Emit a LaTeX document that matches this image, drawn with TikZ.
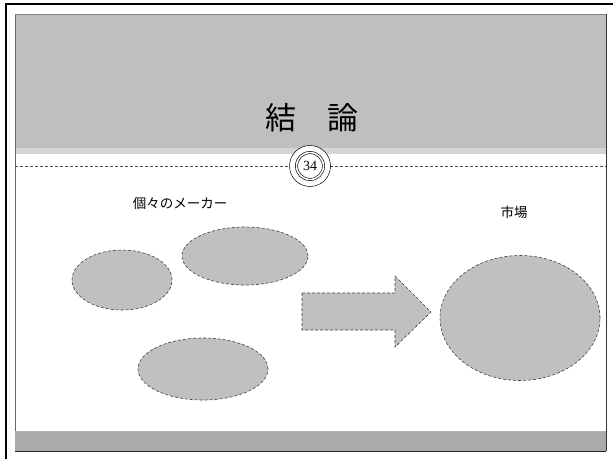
\documentclass[tikz,border=0pt]{standalone}
\usepackage{fontspec}
\newfontfamily\cjk{Noto Sans CJK JP}
\setmainfont{Liberation Serif}
\usetikzlibrary{shapes.geometric}
\definecolor{hdr}{HTML}{BFBFBF}
\definecolor{bar}{HTML}{AAAAAA}
\definecolor{blob}{HTML}{C0C0C0}
\tikzset{
  blobshape/.style={ellipse, fill=blob, draw=black!75, densely dashed, line width=0.6pt, inner sep=0pt},
  lbl/.style={font=\cjk\fontsize{13.5}{14}\selectfont, inner sep=0pt},
}
\begin{document}
\begin{tikzpicture}[x=1pt,y=-1pt]
\useasboundingbox (0,0) rectangle (613,459);
\fill[white] (0,0) rectangle (613,459);
% outer black frame
\draw[black, line width=2pt] (5.5,459) -- (5.5,4) -- (613,4);
% panel
\fill[hdr] (15,14) rectangle (606,154);
\fill[hdr!65!white] (15,148) rectangle (606,154);
\draw[black!60, line width=0.8pt] (15,14) -- (15,451);
\draw[black!80, line width=0.8pt] (606,14) -- (606,451);
\draw[black!50, line width=0.5pt] (15,14) -- (606,14);
% bottom bar
\fill[bar] (15,431) rectangle (606,451);
\draw[black!30, line width=0.8pt] (15,431) -- (606,431);
\draw[black!85, line width=1pt] (15,451) -- (606,451);
% dashed separator
\draw[black!70, densely dashed, line width=0.6pt] (15,166.5) -- (606,166.5);
% title
\node[font=\cjk\fontsize{31}{32}\selectfont, inner sep=0pt] (title) at (312,118) {結　論};
% page number circle
\node[circle, fill=white, draw=black, line width=0.5pt, minimum size=41pt, inner sep=0pt] (pgo) at (310,166) {};
\node[circle, draw=black, double, double distance=1.6pt, line width=0.6pt, minimum size=27pt, inner sep=0pt, font=\fontsize{14}{14}\selectfont] (pg) at (310,166) {34};
% labels
\node[lbl] (makers) at (180,203) {個々のメーカー};
\node[lbl] (market) at (514,212) {市場};
% ellipses
\node[blobshape, minimum width=100pt, minimum height=60pt] (e1) at (122,280) {};
\node[blobshape, minimum width=126pt, minimum height=58pt] (e2) at (245,256) {};
\node[blobshape, minimum width=130pt, minimum height=62pt] (e3) at (203,369) {};
\node[blobshape, minimum width=160pt, minimum height=125pt] (e4) at (520,318) {};
% arrow
\filldraw[fill=blob, draw=black!75, densely dashed, line width=0.6pt]
  (302,293) -- (395,293) -- (395,276) -- (431,312) -- (395,347) -- (395,330) -- (302,330) -- cycle;
\end{tikzpicture}
\end{document}
